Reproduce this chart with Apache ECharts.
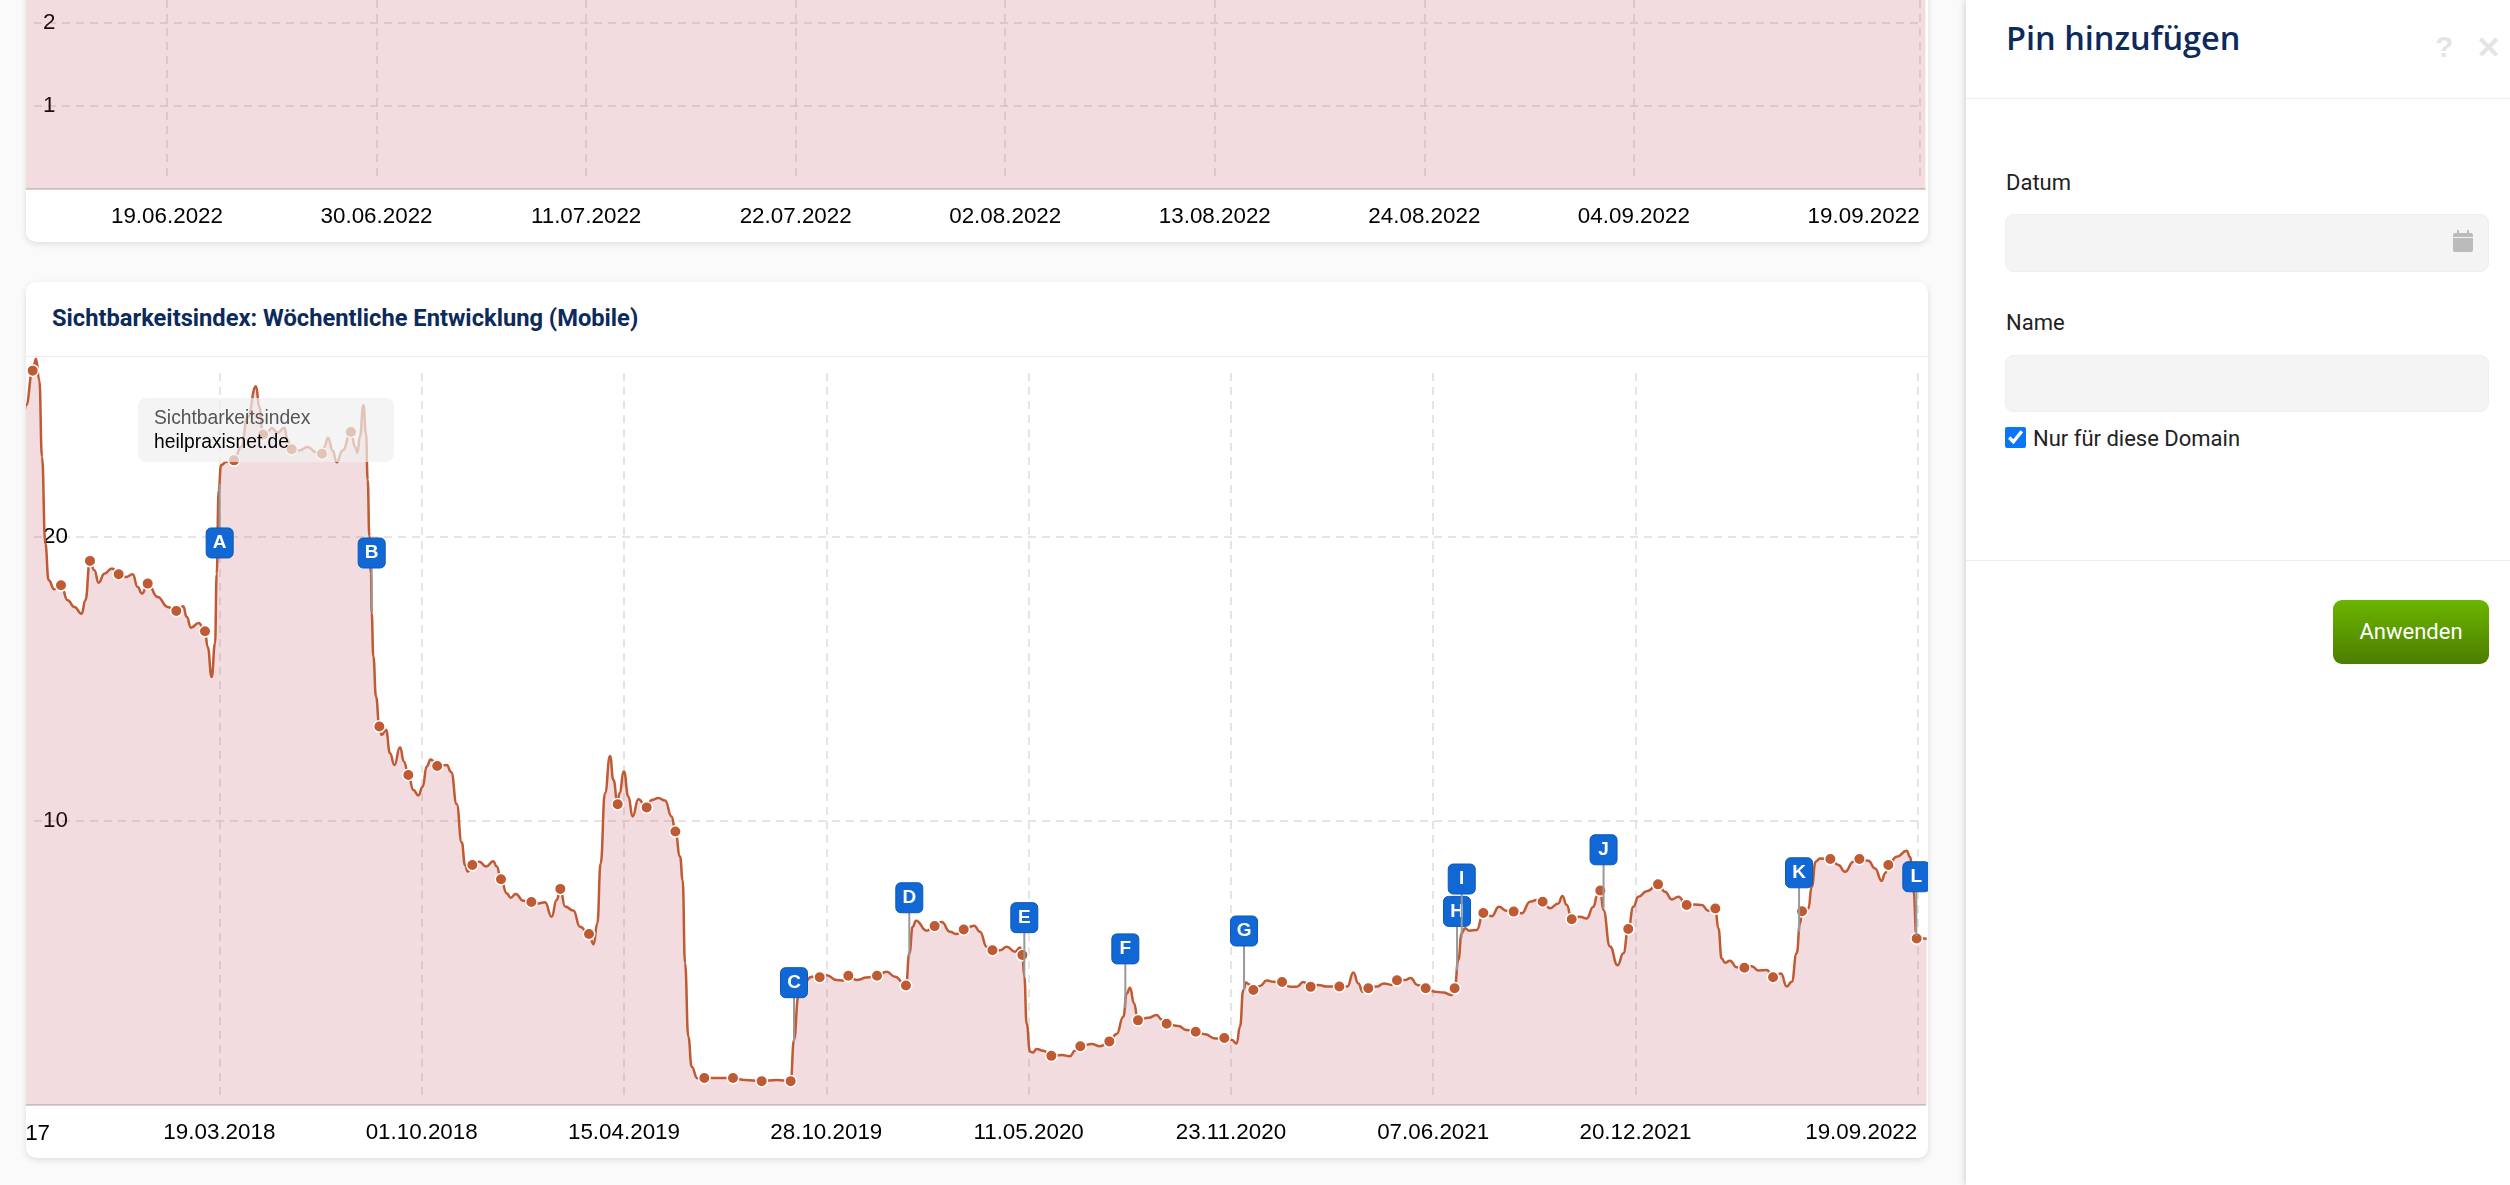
<!DOCTYPE html>
<html lang="de">
<head>
<meta charset="utf-8">
<title>Sichtbarkeitsindex</title>
<script src="https://cdn.jsdelivr.net/npm/echarts@6/dist/echarts.min.js"></script>
<style>
html, body { margin: 0; height: 100%; overflow: hidden; background: #fafafa; }
body { position: relative; width: 2510px; height: 1185px; font-family: "Liberation Sans", Arial, sans-serif; }
.card { position: absolute; left: 26px; width: 1902px; background: #fff; border-radius: 10px; box-shadow: 0 2px 6px rgba(0,0,0,.12); overflow: hidden; }
#topCard { top: -20px; height: 262px; }
#bottomCard { top: 282px; height: 876px; }
.card-title { position: absolute; left: 26px; top: 22px; font: 700 23.7px Roboto, sans-serif; color: #0c2a5c; white-space: nowrap; }
.card-head { position: absolute; left: 0; right: 0; top: 74px; height: 1px; background: #eee; }
#topChart { position: absolute; left: 0; top: 20px; width: 1902px; height: 242px; }
#mainChart { position: absolute; left: 0; top: 75px; width: 1902px; height: 801px; }
.legend-box { position: absolute; left: 112px; top: 116px; width: 256px; height: 64px; border-radius: 8px; background: rgba(240,240,240,.7); }
.legend-box div { position: absolute; left: 16px; font-size: 19.3px; white-space: nowrap; }
.panel { position: absolute; left: 1966px; top: 0; right: 0; bottom: 0; background: #fff; box-shadow: -2px 0 6px rgba(0,0,0,.14); font-family: Roboto, sans-serif; color: #222; }
.panel > * { position: absolute; }
.panel h2 { margin: 0; left: 40px; top: 15px; font: 600 32.5px "Open Sans", sans-serif; color: #0c2a5c; white-space: nowrap; }
.hint { color: #e4e4e4; font: 700 30px "Liberation Sans", sans-serif; }
.rule { left: 0; right: 0; height: 1px; background: #eee; }
.lbl { left: 40px; font-size: 22px; line-height: 26px; white-space: nowrap; }
.field { left: 39px; width: 484px; background: #f4f4f4; border-radius: 9px; box-shadow: inset 0 0 0 1px #efefef; }
.check { left: 39px; top: 427px; width: 21px; height: 21px; margin: 0; accent-color: #0a76f6; }
.btn { left: 367px; top: 600px; width: 156px; height: 64px; line-height: 64px; text-align: center; border-radius: 9px; color: #fff; font-size: 22px; background: linear-gradient(#6cb500, #4c7d00); }
</style>
</head>
<body>
<div class="card" id="topCard"><div id="topChart"></div></div>
<div class="card" id="bottomCard">
  <div class="card-title">Sichtbarkeitsindex: Wöchentliche Entwicklung (Mobile)</div>
  <div class="card-head"></div>
  <div id="mainChart"></div>
  <div class="legend-box">
    <div style="top:9px;color:#555">Sichtbarkeitsindex</div>
    <div style="top:33px;color:#000">heilpraxisnet.de</div>
  </div>
</div>
<div class="panel">
  <h2>Pin hinzufügen</h2>
  <div class="hint" style="left:469px;top:30px">?</div>
  <div class="hint" style="left:510px;top:30px">✕</div>
  <div class="rule" style="top:98px"></div>
  <div class="lbl" style="top:170px">Datum</div>
  <div class="field" style="top:214px;height:58px"></div>
  <svg style="left:487px;top:230px" width="20" height="22" viewBox="0 0 20 22"><path fill="#bbb" d="M0 8h20v12a2 2 0 0 1-2 2H2a2 2 0 0 1-2-2zM2 3h2V0h2v3h8V0h2v3h2a2 2 0 0 1 2 2v2H0V5a2 2 0 0 1 2-2z"/></svg>
  <div class="lbl" style="top:310px">Name</div>
  <div class="field" style="top:355px;height:57px"></div>
  <input class="check" type="checkbox" checked>
  <div class="lbl" style="left:67px;top:426px">Nur für diese Domain</div>
  <div class="rule" style="top:560px"></div>
  <div class="btn">Anwenden</div>
</div>
<script>
// oberes Diagramm: nur der untere Rand ist sichtbar, die Kurve liegt oberhalb des Ausschnitts
const topDays = [-7.4, 92.3];
const topValues = [3, 3];
const topTickDays = [0, 11, 22, 33, 44, 55, 66, 77, 92];
const topTickLabels = ['19.06.2022', '30.06.2022', '11.07.2022', '22.07.2022', '02.08.2022', '13.08.2022', '24.08.2022', '04.09.2022', '19.09.2022'];
const topYTicks = [1, 2];

// unteres Diagramm: x in Wochen seit dem linken Rand
const tickWeeks = [27, 55, 83, 111, 139, 167, 195, 223, 262];
const tickLabels = ['19.03.2018', '01.10.2018', '15.04.2019', '28.10.2019', '11.05.2020', '23.11.2020', '07.06.2021', '20.12.2021', '19.09.2022'];
const yTicks = [10, 20];

const lineWeeks = [
  0, 0.24, 1.16, 1.62, 2.08, 2.45, 2.91, 3.37, 4.16, 5.08,
  6, 6.93, 7.94, 8.45, 9.09, 9.69, 10.29, 11.08, 12.14, 13.06,
  14.08, 15, 15.69, 16.29, 17.08, 18.46, 19.84, 21.04, 22, 22.47,
  23.07, 24.13, 25.01, 25.38, 25.93, 26.4, 26.63, 26.9, 27.23, 27.92,
  29.02, 29.99, 30.92, 32.07, 32.53, 33.04, 33.68, 34.24, 35.07, 35.99,
  36.45, 37.01, 38.07, 39.22, 40.37, 41.2, 41.53, 42.03, 42.68, 43.23,
  44.06, 45.2, 45.77, 46.1, 46.46, 46.93, 47.29, 47.53, 47.76, 47.99,
  48.08, 48.31, 48.68, 49.14, 49.46, 50.06, 50.62, 51.22, 52, 52.55,
  53.15, 53.85, 54.54, 55.14, 55.69, 56.25, 57.15, 58.46, 59.1, 59.84,
  60.54, 61, 61.37, 62.01, 62.98, 63.9, 64.92, 65.38, 65.98, 66.76,
  67.32, 68.01, 69.07, 70.18, 71.15, 72.07, 72.99, 73.68, 74.19, 74.84,
  75.99, 76.91, 78.16, 78.8, 79.31, 79.77, 80.37, 81.07, 81.53, 82.13,
  82.36, 83, 83.6, 84.2, 84.99, 86.14, 86.83, 87.76, 88.68, 89.6,
  90.11, 90.76, 91.12, 91.45, 91.91, 92.37, 93.15, 94.12, 95.83, 98.09,
  99.75, 102.06, 104.13, 106.07, 106.53, 107.13, 107.82, 108.98, 110.09, 111.05,
  112.44, 113.36, 114.05, 115.2, 116.59, 118.02, 119.36, 120.51, 122.03, 122.5,
  122.96, 123.42, 124.9, 126, 126.97, 128.13, 129.05, 130.02, 131.45, 132.28,
  133.2, 134, 135.04, 135.97, 137.12, 137.81, 138.14, 138.41, 138.73, 139.2,
  139.57, 140.12, 141.04, 142.15, 143.58, 144.73, 145.42, 146.16, 147.73, 148.88,
  150.18, 151.19, 152.11, 152.58, 153.04, 153.59, 154.14, 155.58, 156.73, 157.42,
  158.11, 159.73, 160.88, 162.13, 163.42, 164.8, 166.09, 167.11, 167.8, 168.26,
  168.72, 169.09, 169.42, 170.11, 171.03, 171.95, 172.88, 174.08, 175.18, 176.1,
  177.03, 178.04, 179.1, 180.26, 182.01, 183.12, 183.95, 184.64, 185.24, 186.02,
  187.18, 188.19, 189.25, 189.99, 191.1, 191.88, 192.81, 193.96, 195.25, 196.4,
  197.56, 197.97, 198.48, 198.94, 199.4, 200, 201.02, 201.94, 203.09, 204.11,
  205.17, 206.14, 207.25, 208.4, 209.32, 210.15, 211.17, 212.32, 212.88, 213.48,
  214.17, 215.32, 216.24, 217.17, 217.72, 218.13, 218.55, 219.47, 220.53, 221.32,
  222, 222.71, 223.4, 224.55, 226.12, 227.09, 228.01, 228.93, 230.09, 231.24,
  232.16, 233.09, 234.05, 234.47, 234.93, 235.39, 236.08, 237.01, 238.07, 239.08,
  240.01, 241.16, 242.04, 243.14, 243.93, 244.62, 245.31, 245.77, 246.05, 246.93,
  247.39, 247.94, 248.54, 249.97, 251.08, 252, 253.16, 253.99, 255.23, 256.15,
  257.08, 257.54, 258, 259.15, 260.54, 261, 261.46, 261.92, 262.61, 263.3
];
const lineValues = [
  24.35, 24.64, 25.86, 26.28, 25.52, 22.82, 19.77, 18.48, 18.16, 18.3,
  17.77, 17.54, 17.3, 17.77, 19.16, 18.83, 18.39, 18.71, 18.89, 18.69,
  18.59, 18.69, 18.24, 18.01, 18.36, 17.89, 17.54, 17.4, 17.56, 17.19,
  16.81, 16.97, 16.68, 16.13, 15.07, 16.25, 18.71, 21.65, 22.53, 22.64,
  22.7, 23.17, 24.23, 25.31, 24.58, 23.61, 23.7, 23.84, 23.67, 23.85,
  23.41, 23.09, 23.05, 23.17, 22.99, 22.93, 23.17, 23.5, 23.05, 22.63,
  23.05, 23.7, 23.18, 22.97, 23.54, 24.65, 23.65, 22.01, 20.02, 18.72,
  17.32, 15.79, 14.38, 13.33, 13.03, 13.21, 12.39, 11.97, 12.6, 12.09,
  11.62, 11.09, 10.9, 11.21, 11.92, 12.17, 11.94, 11.97, 11.72, 10.6,
  9.25, 8.45, 8.22, 8.45, 8.57, 8.4, 8.58, 8.4, 7.95, 7.46,
  7.3, 7.43, 7.19, 7.15, 7.1, 7.14, 6.63, 7.22, 7.61, 6.99,
  6.85, 6.28, 6.02, 5.66, 6.4, 8.51, 10.98, 12.29, 11.45, 10.59,
  10.98, 11.74, 10.86, 10.16, 10.77, 10.48, 10.74, 10.81, 10.72, 10.16,
  9.63, 8.75, 7.92, 4.99, 2.4, 1.35, 0.94, 0.95, 0.95, 0.95,
  0.88, 0.84, 0.88, 0.84, 2.29, 3.81, 4.28, 4.52, 4.5, 4.57,
  4.4, 4.38, 4.55, 4.4, 4.49, 4.55, 4.69, 4.52, 4.21, 5.34,
  6.28, 6.49, 6.14, 6.3, 6.44, 6.1, 6.02, 6.18, 6.31, 6.1,
  5.57, 5.45, 5.45, 5.57, 5.4, 5.55, 5.28, 4.52, 2.87, 1.88,
  1.85, 1.97, 1.91, 1.73, 1.76, 1.72, 1.91, 2.07, 2.15, 2.07,
  2.24, 2.5, 3.11, 3.93, 4.13, 3.58, 2.98, 3.07, 3.17, 3.01,
  2.86, 2.78, 2.64, 2.58, 2.49, 2.34, 2.36, 2.29, 2.17, 2.76,
  4.05, 4.31, 4.26, 4.05, 4.19, 4.38, 4.34, 4.33, 4.16, 4.16,
  4.33, 4.16, 4.23, 4.17, 4.17, 4.17, 4.67, 4.28, 3.99, 4.11,
  4.17, 4.28, 4.23, 4.39, 4.4, 4.47, 4.23, 4.11, 3.99, 3.96,
  3.87, 4.11, 5.11, 6.05, 6.22, 6.14, 6.16, 6.76, 6.65, 6.98,
  6.84, 6.81, 6.75, 7.16, 7.22, 7.16, 6.93, 7.1, 7.36, 7.04,
  6.54, 6.63, 6.57, 6.98, 7.39, 7.55, 6.87, 5.58, 4.92, 5.34,
  6.2, 6.98, 7.33, 7.53, 7.77, 7.51, 7.24, 7.33, 7.04, 7.06,
  7.04, 6.84, 6.92, 6.22, 5.16, 5.01, 5.08, 4.85, 4.83, 4.89,
  4.74, 4.75, 4.5, 4.63, 4.17, 4.34, 5.34, 6.39, 6.82, 6.92,
  7.69, 8.57, 8.68, 8.66, 8.45, 8.21, 8.57, 8.66, 8.6, 8.33,
  7.89, 8.16, 8.45, 8.74, 8.95, 8.74, 7.57, 5.86, 5.87, 5.85
];
// Punkte auf der Kurve, etwa alle vier Wochen
const dotWeeks = [
  1.16, 5.08, 9.09, 13.06, 17.08, 21.04, 25.01, 29.02, 33.04, 37.01, 41.2, 45.2,
  49.14, 53.15, 57.15, 62.01, 65.98, 70.18, 74.19, 78.16, 82.13, 86.14, 90.11,
  94.12, 98.09, 102.06, 106.07, 110.09, 114.05, 118.02, 122.03, 126, 130.02, 134,
  138.14, 142.15, 146.16, 150.18, 154.14, 158.11, 162.13, 166.09, 170.11, 174.08,
  178.04, 182.01, 186.02, 189.99, 193.96, 197.97, 201.94, 206.14, 210.15, 214.17,
  218.13, 222, 226.12, 230.09, 234.05, 238.07, 242.04, 246.05, 249.97, 253.99, 258, 261.92
];
// Pins: Fußpunkt des Stiels
const pinNames = ['A', 'B', 'C', 'D', 'E', 'F', 'G', 'H', 'I', 'J', 'K', 'L'];
const pinWeeks = [27.04, 48.08, 106.53, 122.49, 138.41, 152.39, 168.82, 198.3, 198.95, 218.58, 245.64, 261.87];
const pinValues = [21.87, 17.36, 2.23, 5.22, 4.52, 3.42, 4.05, 4.74, 5.88, 6.91, 6.1, 5.96];
const pinsBelow = ['A']; // A hängt unter seinem Punkt

const AXIS_FONT = { fontFamily: 'Liberation Sans', fontSize: 22.4, color: '#000' };
const LINE_COLOR = '#bf5a33';
const AREA_COLOR = 'rgba(190,60,80,0.18)';
const GRID_LINE = { show: true, lineStyle: { color: '#ddd', width: 1.5, type: [8, 6] } };

// Achsen für ein Diagramm: grid 0 trägt Kurve und Beschriftung, grid 1 nur die etwas kürzeren Gitterlinien
function axes(o) {
  return {
    grid: [
      { left: 0, top: 0, width: 1899, height: o.plotH },
      { left: 8, top: o.lineTop, width: o.lineW, height: o.lineH }
    ],
    xAxis: [
      {
        type: 'value', gridIndex: 0, min: o.xMin, max: o.xMax,
        axisLine: { show: true, lineStyle: { color: '#d8d0d2', width: 2 } },
        axisTick: { show: false, customValues: o.xTicks },
        splitLine: { show: false },
        axisLabel: Object.assign({}, AXIS_FONT, {
          margin: 17, alignMaxLabel: 'right', customValues: o.xTicks,
          formatter: v => o.xLabels[o.xTicks.indexOf(v)]
        })
      },
      {
        type: 'value', gridIndex: 1, min: o.lineXMin, max: o.lineXMax,
        axisLine: { show: false }, axisLabel: { show: false },
        axisTick: { show: false, customValues: o.xTicks },
        splitLine: GRID_LINE
      }
    ],
    yAxis: [
      {
        type: 'value', gridIndex: 0, min: 0, max: o.yMax,
        axisLine: { show: false },
        axisTick: { show: false, customValues: o.yTicks },
        splitLine: { show: false },
        axisLabel: Object.assign({}, AXIS_FONT, { inside: true, margin: 17, customValues: o.yTicks })
      },
      {
        type: 'value', gridIndex: 1, min: o.lineYMin, max: o.lineYMax,
        axisLine: { show: false }, axisLabel: { show: false },
        axisTick: { show: false, customValues: o.yTicks },
        splitLine: GRID_LINE
      }
    ]
  };
}

const topChart = echarts.init(document.getElementById('topChart'));
topChart.setOption(Object.assign(axes({
  plotH: 189, lineTop: 0, lineW: 1886, lineH: 181,
  xMin: -7.4, xMax: 92.28, xTicks: topTickDays, xLabels: topTickLabels,
  lineXMin: -6.98, lineXMax: 92.02,
  yMax: 2.277, yTicks: topYTicks, lineYMin: 0.096, lineYMax: 2.277
}), {
  animation: false,
  series: [{
    type: 'line', xAxisIndex: 0, yAxisIndex: 0, showSymbol: false,
    data: topDays.map((d, i) => [d, topValues[i]]),
    lineStyle: { color: LINE_COLOR, width: 2 },
    areaStyle: { color: AREA_COLOR, opacity: 1 }
  }]
}));

const STEM = 44, BOX_W = 27, BOX_H = 30;

const mainChart = echarts.init(document.getElementById('mainChart'));
mainChart.setOption(Object.assign(axes({
  plotH: 748, lineTop: 16, lineW: 1884, lineH: 724,
  xMin: 0.235, xMax: 263.07, xTicks: tickWeeks, xLabels: tickLabels,
  lineXMin: 1.34, lineXMax: 262.1,
  yMax: 26.34, yTicks: yTicks, lineYMin: 0.28, lineYMax: 25.77
}), {
  animation: false,
  // abgeschnittene erste Beschriftung am linken Kartenrand
  graphic: [{
    type: 'text', left: -88, top: 766, silent: true,
    style: { text: '14.08.2017', font: '22.4px "Liberation Sans"', fill: '#000' }
  }],
  series: [
    {
      type: 'line', xAxisIndex: 0, yAxisIndex: 0,
      data: lineWeeks.map((w, i) => [w, lineValues[i]]),
      showSymbol: false, smooth: 0.5, smoothMonotone: 'x',
      lineStyle: { color: LINE_COLOR, width: 2.5 },
      areaStyle: { color: AREA_COLOR, opacity: 1 }
    },
    {
      type: 'scatter', xAxisIndex: 0, yAxisIndex: 0, z: 3,
      data: dotWeeks.map(w => [w, lineValues[lineWeeks.indexOf(w)]]),
      symbolSize: 11.5,
      itemStyle: { color: LINE_COLOR, borderColor: '#fff', borderWidth: 1.5, opacity: 1 }
    },
    {
      type: 'custom', xAxisIndex: 0, yAxisIndex: 0, z: 4,
      data: pinWeeks.map((w, i) => [w, pinValues[i]]),
      renderItem(params, api) {
        const p = api.coord([api.value(0), api.value(1)]);
        const name = pinNames[params.dataIndex];
        const below = pinsBelow.includes(name);
        const stemEnd = below ? p[1] + STEM : p[1] - STEM;
        const boxTop = below ? stemEnd : stemEnd - BOX_H;
        return {
          type: 'group',
          children: [
            { type: 'line', shape: { x1: p[0], y1: p[1], x2: p[0], y2: stemEnd }, style: { stroke: '#999', lineWidth: 2 } },
            {
              type: 'rect',
              shape: { x: p[0] - BOX_W / 2, y: boxTop, width: BOX_W, height: BOX_H, r: 5 },
              style: { fill: '#1167d4', stroke: '#0b59b8', lineWidth: 1 }
            },
            {
              type: 'text',
              style: {
                x: p[0], y: boxTop + BOX_H / 2, text: name, fill: '#fff',
                font: 'bold 19px "Liberation Sans"', align: 'center', verticalAlign: 'middle'
              }
            }
          ]
        };
      }
    }
  ]
}));
</script>
</body>
</html>
